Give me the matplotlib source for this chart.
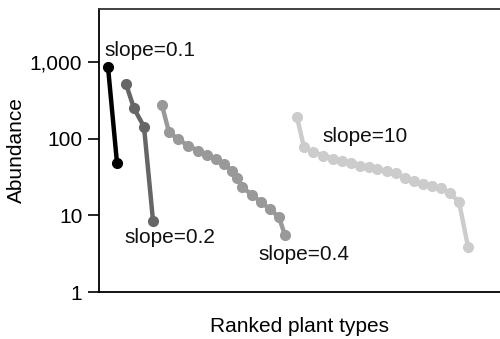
import matplotlib
matplotlib.use("Agg")
import matplotlib.pyplot as plt
from matplotlib.ticker import FixedLocator, FixedFormatter, NullLocator

plt.rcParams["font.family"] = ["Liberation Sans", "DejaVu Sans"]

# rank positions (arbitrary units along the x axis) and abundances
x_01 = [9, 18]
y_01 = [860, 48]

x_02 = [27, 35, 45, 54]
y_02 = [515, 248, 143, 8.5]

x_04 = [63, 70, 79, 89, 99, 108, 117, 125, 133, 138, 143, 153, 162, 171, 180, 186]
y_04 = [272, 121, 99, 81, 70, 62, 54, 47, 37.5, 30.6, 23.2, 18.6, 14.8, 12.1, 9.4, 5.5]

x_10 = [198, 205, 214, 224, 234, 243, 252, 261, 270, 278, 288, 297, 306, 315, 324,
        333, 342, 351, 360, 369]
y_10 = [190, 77, 67, 60, 55, 51.5, 48.5, 44.3, 42.3, 39.8, 37.8, 35.3, 30.9, 28,
        25.6, 24.1, 22.5, 19.4, 15.0, 3.9]

series = [
    (x_01, y_01, "#000000", "slope=0.1", (5, 1430)),
    (x_02, y_02, "#666666", "slope=0.2", (25, 5.2)),
    (x_04, y_04, "#999999", "slope=0.4", (159, 3.1)),
    (x_10, y_10, "#cccccc", "slope=10", (223, 108)),
]

y_ticks = [1, 10, 100, 1000]
y_tick_labels = ["1", "10", "100", "1,000"]

fig = plt.figure(figsize=(5.0, 3.39), dpi=100)
ax = fig.add_axes([99 / 500, 47 / 339, 401 / 500, 283 / 339])

for xs, ys, col, lab, pos in series:
    ax.plot(xs, ys, color=col, lw=3.2, marker="o", ms=7, solid_capstyle="round")
    ax.text(pos[0], pos[1], lab, fontsize=15, ha="left", va="center", color="#111111")

ax.set_yscale("log")
ax.set_xlim(0, 401)
ax.set_ylim(1, 4900)
ax.yaxis.set_major_locator(FixedLocator(y_ticks))
ax.yaxis.set_major_formatter(FixedFormatter(y_tick_labels))
ax.yaxis.set_minor_locator(NullLocator())
ax.set_xticks([])
ax.tick_params(axis="y", length=8, width=1.2, pad=4, labelsize=15, direction="out")

ax.spines["right"].set_visible(False)
ax.spines["top"].set_color("#333333")
ax.spines["top"].set_linewidth(1.3)
ax.spines["left"].set_linewidth(1.3)
ax.spines["bottom"].set_linewidth(1.3)

ax.set_ylabel("Abundance", fontsize=15, labelpad=3)
ax.set_xlabel("Ranked plant types", fontsize=15, labelpad=18)

fig.savefig("out.png", dpi=100)
